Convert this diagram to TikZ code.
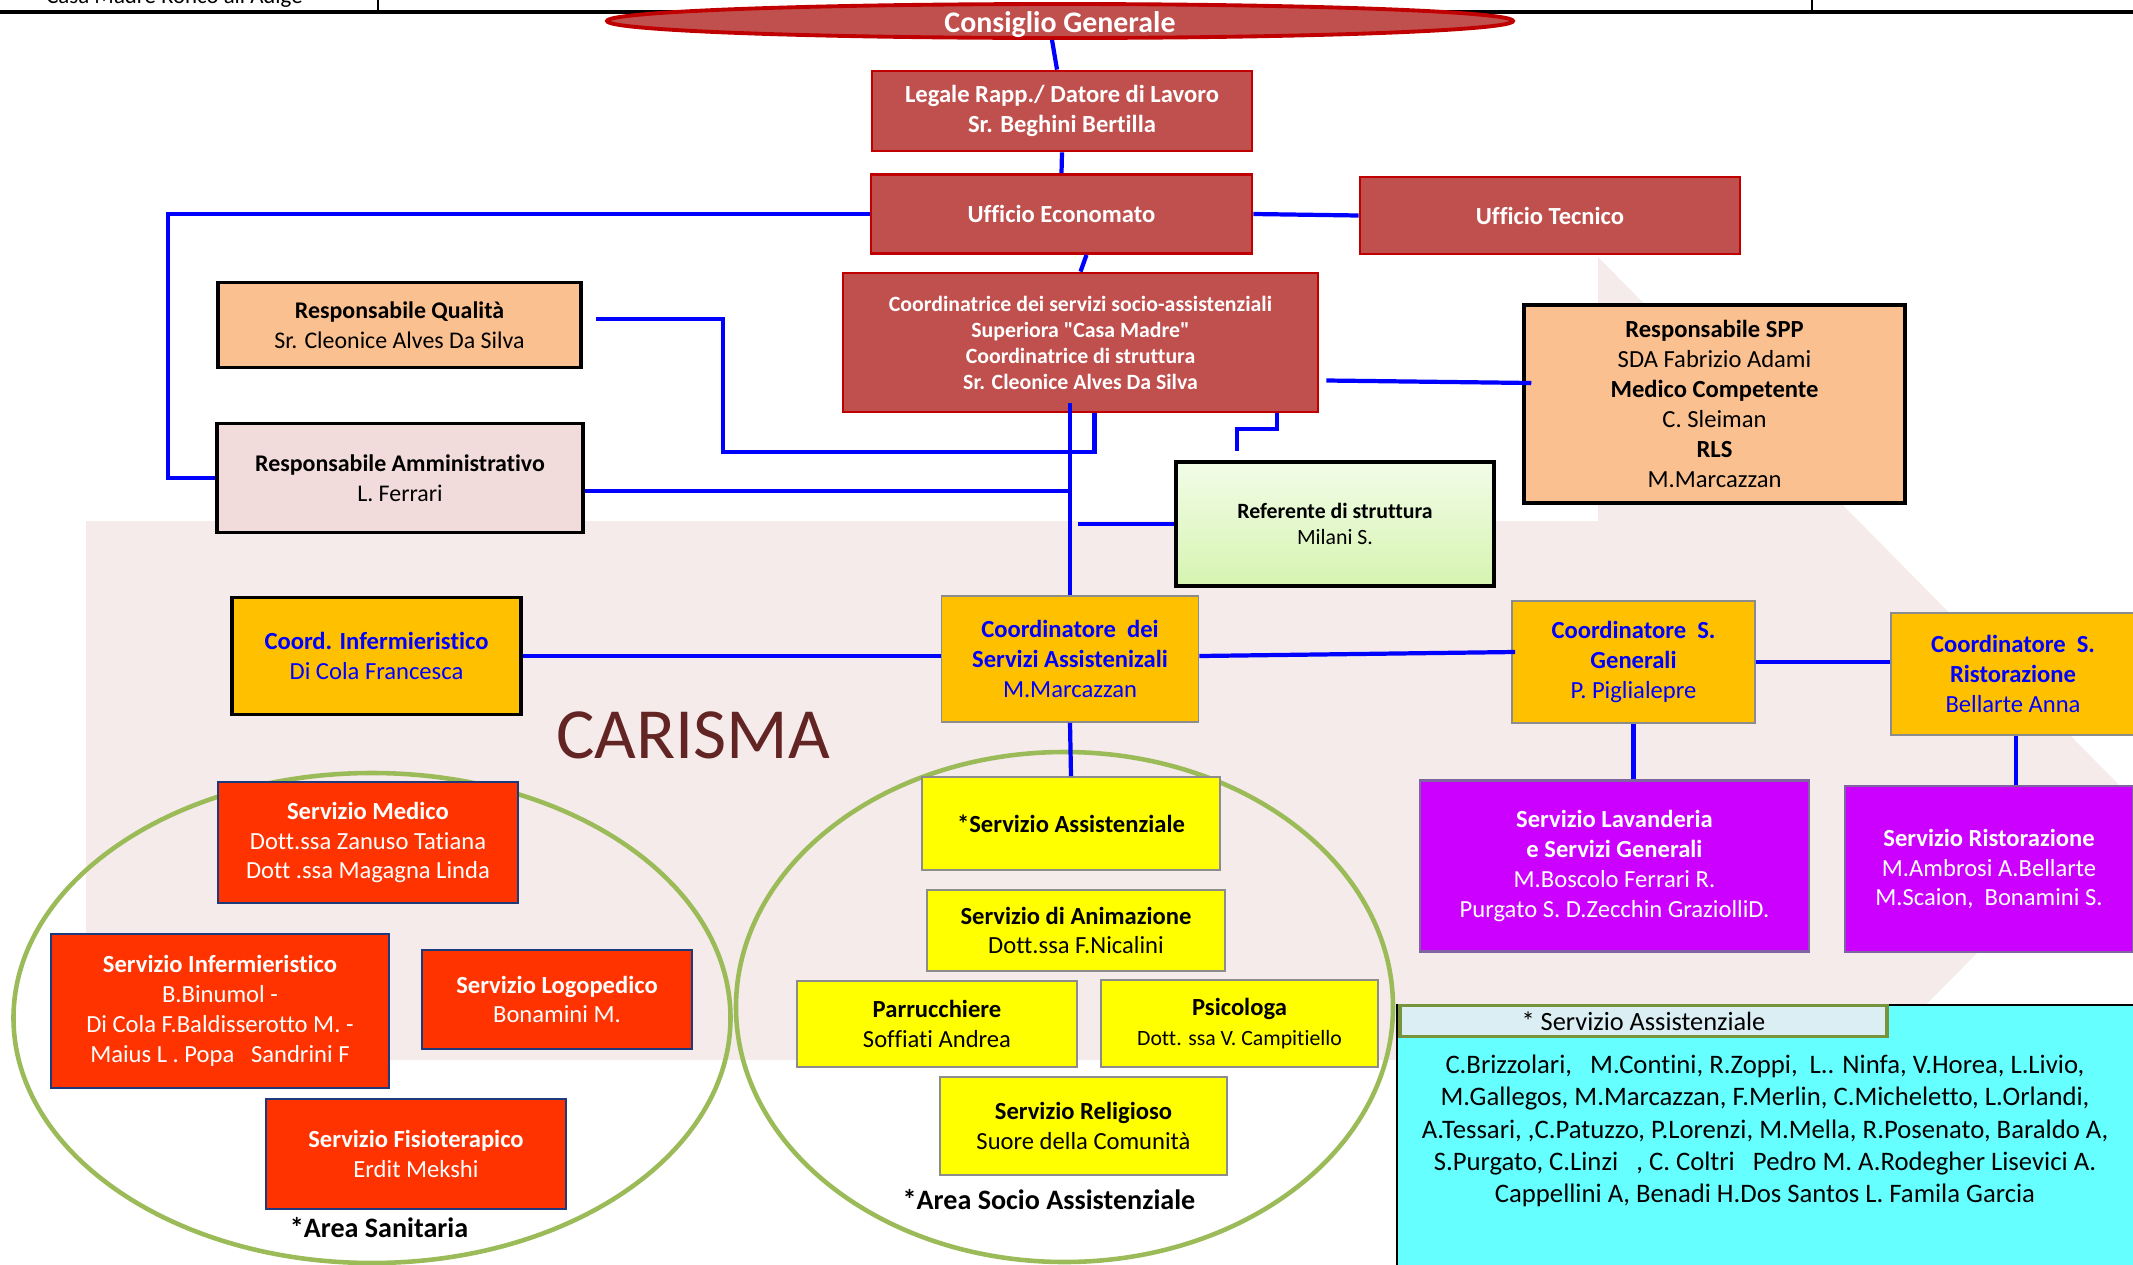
\documentclass[tikz,border=0pt]{standalone}
\usepackage{fontspec}
\setmainfont{Carlito}[Ligatures={TeXOff,NoCommon}]
\usetikzlibrary{calc,shapes.geometric}
\definecolor{rossoscuro}{HTML}{C0504D}
\definecolor{rossobordo}{HTML}{C00000}
\definecolor{pesca}{HTML}{FAC090}
\definecolor{rosaamm}{HTML}{F2DCDB}
\definecolor{arancio}{HTML}{FFC000}
\definecolor{rossovivo}{HTML}{FF3300}
\definecolor{giallo}{HTML}{FFFF00}
\definecolor{viola}{HTML}{CC00FF}
\definecolor{ciano}{HTML}{66FFFF}
\definecolor{testata}{HTML}{DAEEF3}
\definecolor{verdeell}{HTML}{9BBB59}
\definecolor{verdetest}{HTML}{77933C}
\definecolor{rosafondo}{HTML}{F5EBEB}
\definecolor{marrone}{HTML}{632523}
\definecolor{blu}{HTML}{0000FF}
\definecolor{navy}{HTML}{1F3A7A}
\definecolor{grigiobordo}{HTML}{8C8C8C}
\definecolor{violabordo}{HTML}{8064A2}
\definecolor{refalto}{HTML}{F2FCE8}
\definecolor{refbasso}{HTML}{D6F4B0}
\begin{document}
\begin{tikzpicture}[
    conn/.style={draw=blu,line width=1.2pt},
    scatola/.style={rectangle,align=center,inner sep=0pt,font=\fontsize{7}{8.5}\selectfont},
    direz/.style={scatola,fill=rossoscuro,draw=rossobordo,line width=0.8pt,text=white,font=\bfseries\fontsize{7}{8.6}\selectfont},
    resp/.style={scatola,draw=black,line width=1pt},
    coord/.style={scatola,fill=arancio,draw=grigiobordo,line width=0.5pt,text=blu},
    sanit/.style={scatola,fill=rossovivo,draw=navy,line width=0.5pt,text=white},
    socio/.style={scatola,fill=giallo,draw=grigiobordo,line width=0.5pt},
    gener/.style={scatola,fill=viola,draw=violabordo,line width=0.8pt,text=white},
    area/.style={font=\bfseries\fontsize{8}{9.6}\selectfont},
    dim/.style 2 args={minimum width=#1cm,minimum height=#2cm}
  ]
  \useasboundingbox (0,0) rectangle (21.33,-12.64);
  \clip (0,0) rectangle (21.33,-12.64);

  \fill[rosafondo] (0.86,-5.21) -- (15.98,-5.21) -- (15.98,-2.57) -- (21.31,-7.97) -- (15.98,-13.37) -- (15.98,-10.60) -- (0.86,-10.60) -- cycle;

  \node[anchor=base,font=\fontsize{6.5}{8}\selectfont] (intestazione) at (1.745,-0.03) {Casa Madre Ronco all'Adige};
  \draw[line width=0.7pt] (3.78,0) -- (3.78,-0.117) (18.12,0) -- (18.12,-0.117);
  \draw[line width=1.1pt] (0,-0.117) -- (21.33,-0.117);

  \draw[verdeell,line width=1.3pt] (3.72,-10.18) ellipse [x radius=3.585,y radius=2.45];
  \draw[verdeell,line width=1.3pt] (10.645,-10.07) ellipse [x radius=3.285,y radius=2.55];
  \draw[fill=ciano,line width=0.8pt] (13.97,-10.05) rectangle (21.50,-12.90);
  \node[text=marrone,font=\fontsize{20.5}{24}\selectfont] (carisma) at (6.93,-7.35) {CARISMA};

  \node[ellipse,fill=rossoscuro,draw=rossobordo,line width=1.1pt,minimum width=9.06cm,minimum height=0.34cm,inner sep=0pt] (consiglio) at (10.60,-0.21) {};
  \node[text=white,font=\bfseries\fontsize{8.5}{10}\selectfont] (consigliotxt) at (10.60,-0.245) {Consiglio Generale};
  \node[direz,dim={3.80}{0.80}] (legale) at (10.62,-1.11) {Legale Rapp./ Datore di Lavoro\\Sr. Beghini Bertilla};
  \node[direz,dim={3.81}{0.79}] (economato) at (10.615,-2.14) {Ufficio Economato};
  \node[direz,dim={3.80}{0.77}] (tecnico) at (15.50,-2.155) {Ufficio Tecnico};
  \node[direz,dim={4.75}{1.39},font=\bfseries\fontsize{6.2}{7.4}\selectfont] (coordtr) at (10.805,-3.425) {Coordinatrice dei servizi socio-assistenziali\\Superiora "Casa Madre"\\Coordinatrice di struttura\\Sr. Cleonice Alves Da Silva};

  \node[resp,fill=pesca,dim={3.63}{0.85},font=\fontsize{6.8}{8.4}\selectfont] (qualita) at (3.995,-3.25) {\textbf{Responsabile Qualità}\\Sr. Cleonice Alves Da Silva};
  \node[resp,fill=rosaamm,dim={3.66}{1.09},font=\fontsize{6.8}{8.4}\selectfont] (ammin) at (4.00,-4.78) {\textbf{Responsabile Amministrativo}\\L. Ferrari};
  \node[resp,fill=pesca,dim={3.81}{1.98}] (spp) at (17.145,-4.04) {\textbf{Responsabile SPP}\\SDA Fabrizio Adami\\\textbf{Medico Competente}\\C. Sleiman\\\textbf{RLS}\\M.Marcazzan};
  \node[resp,top color=refalto,bottom color=refbasso,dim={3.18}{1.24},font=\fontsize{6.2}{7.4}\selectfont] (referente) at (13.35,-5.24) {\textbf{Referente di struttura}\\Milani S.};

  \node[coord,draw=black,line width=1pt,dim={2.89}{1.17}] (coordinf) at (3.765,-6.56) {\textbf{Coord. Infermieristico}\\Di Cola Francesca};
  \node[coord,dim={2.57}{1.26}] (coordass) at (10.70,-6.59) {\textbf{Coordinatore\ \ dei}\\\textbf{Servizi Assistenizali}\\M.Marcazzan};
  \node[coord,dim={2.43}{1.22}] (coordgen) at (16.335,-6.62) {\textbf{Coordinatore\ \ S.}\\\textbf{Generali}\\P. Piglialepre};
  \node[coord,dim={2.44}{1.22}] (coordrist) at (20.13,-6.74) {\textbf{Coordinatore\ \ S.}\\\textbf{Ristorazione}\\Bellarte Anna};

  \node[gener,dim={3.89}{1.71}] (lavanderia) at (16.145,-8.66) {\textbf{Servizio Lavanderia}\\\textbf{e Servizi Generali}\\M.Boscolo Ferrari R.\\Purgato S. D.Zecchin GraziolliD.};
  \node[gener,dim={2.88}{1.66}] (ristorazione) at (19.89,-8.69) {\textbf{Servizio Ristorazione}\\M.Ambrosi A.Bellarte\\M.Scaion,\ \ Bonamini S.};

  \node[sanit,dim={3.00}{1.21}] (medico) at (3.68,-8.425) {\textbf{Servizio Medico}\\Dott.ssa Zanuso Tatiana\\Dott .ssa Magagna Linda};
  \node[sanit,dim={3.38}{1.54}] (inferm) at (2.20,-10.11) {\textbf{Servizio Infermieristico}\\B.Binumol -\\Di Cola F.Baldisserotto M. -\\Maius L . Popa\ \ \ Sandrini F};
  \node[sanit,dim={2.70}{0.99}] (logoped) at (5.57,-9.995) {\textbf{Servizio Logopedico}\\Bonamini M.};
  \node[sanit,dim={3.00}{1.10}] (fisio) at (4.16,-11.54) {\textbf{Servizio Fisioterapico}\\Erdit Mekshi};
  \node[area] (areasan) at (3.79,-12.28) {*Area Sanitaria};

  \node[socio,dim={2.98}{0.93}] (servass) at (10.71,-8.235) {\textbf{*Servizio Assistenziale}};
  \node[socio,dim={2.98}{0.81}] (animaz) at (10.76,-9.305) {\textbf{Servizio di Animazione}\\Dott.ssa F.Nicalini};
  \node[socio,dim={2.80}{0.86}] (parrucch) at (9.37,-10.24) {\textbf{Parrucchiere}\\Soffiati Andrea};
  \node[socio,dim={2.77}{0.87}] (psicologa) at (12.395,-10.235) {\textbf{Psicologa}\\{\fontsize{6.2}{8.4}\selectfont Dott. ssa V. Campitiello}};
  \node[socio,dim={2.87}{0.98}] (religioso) at (10.835,-11.26) {\textbf{Servizio Religioso}\\Suore della Comunità};
  \node[area] (areasoc) at (10.49,-12.00) {*Area Socio Assistenziale};

  \node[scatola,fill=testata,draw=verdetest,line width=0.9pt,dim={4.87}{0.31},font=\fontsize{7.5}{9}\selectfont] (testata) at (16.435,-10.21) {* Servizio Assistenziale};
  \node[scatola,font=\fontsize{7.6}{9.2}\selectfont] (elenco) at (17.65,-11.31) {C.Brizzolari,\ \ \ M.Contini, R.Zoppi,\ \ L.. Ninfa, V.Horea, L.Livio,\\M.Gallegos, M.Marcazzan, F.Merlin, C.Micheletto, L.Orlandi,\\A.Tessari, ,C.Patuzzo, P.Lorenzi, M.Mella, R.Posenato, Baraldo A,\\S.Purgato, C.Linzi\ \ \ , C. Coltri\ \ \ Pedro M. A.Rodegher Lisevici A.\\Cappellini A, Benadi H.Dos Santos L. Famila Garcia};

  \draw[conn] ($(consiglio.south)+(-0.08,0)$) -- ($(legale.north)+(-0.05,0)$);
  \draw[conn] (legale.south) -- (economato.north);
  \draw[conn] (economato.east) -- (tecnico.west);
  \coordinate (sinistra) at (1.68,0);
  \draw[conn] (economato.west) -| (sinistra |- ammin.west) -- (ammin.west);
  \draw[conn] ($(economato.south)+(0.25,0)$) -- (coordtr.north);
  \draw[conn] ($(qualita.east)+(0.13,0.06)$) -| (7.23,-4.52) -| ($(coordtr.south)+(0.14,0)$);
  \draw[conn] ($(coordass.north |- coordtr.south)+(0,0.1)$) -- (coordass.north);
  \coordinate (amA) at ($(ammin.east)+(0,-0.13)$);
  \draw[conn] (amA) -- (amA -| coordass.north);
  \draw[conn] ($(referente.west -| coordass.north)+(0.08,0)$) -- (referente.west);
  \draw[conn] ($(coordtr.south)+(1.965,0)$) |- ($(referente.north)+(-0.98,0.31)$) -- ($(referente.north)+(-0.98,0.09)$);
  \draw[conn] ($(coordtr.east)+(0.07,-0.38)$) -- ($(spp.west)+(0.09,0.21)$);
  \draw[conn] (coordinf.east) -- (coordinf.east -| coordass.west);
  \draw[conn] ($(coordass.east)+(0,0.03)$) -- ($(coordgen.west)+(0.04,0.1)$);
  \draw[conn] (coordgen.east) -- (coordgen.east -| coordrist.west);
  \draw[conn] (coordass.south) -- (servass.north);
  \draw[conn] (coordgen.south) -- (coordgen.south |- lavanderia.north);
  \draw[conn] ($(coordrist.south)+(0.03,0)$) -- ($(coordrist.south |- ristorazione.north)+(0.03,0)$);
\end{tikzpicture}
\end{document}
